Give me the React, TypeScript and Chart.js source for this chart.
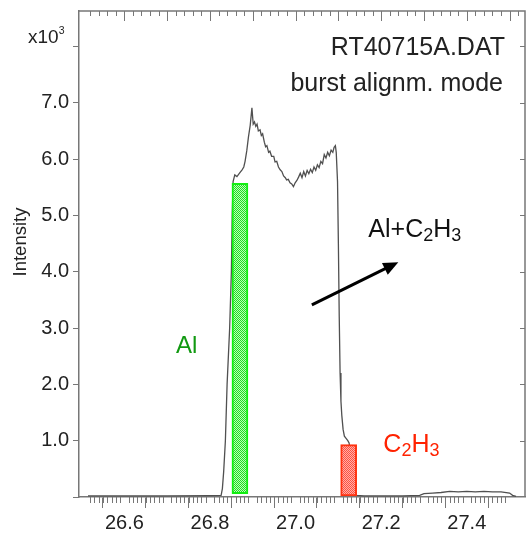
import React, { useEffect, useRef } from "react";
import { Chart, registerables } from "chart.js";

Chart.register(...registerables);

const FONT = "'Liberation Sans', Arial, Helvetica, sans-serif";
const AXIS = "#777777";

// ---- data (x: mass / time axis, y: intensity in units of 10^3) ----
const traceX = [
  26.515, 26.6, 26.7, 26.8, 26.826, 26.829, 26.832, 26.836, 26.84, 26.846,
  26.85, 26.852, 26.854, 26.858, 26.863, 26.869, 26.875, 26.879, 26.882, 26.886,
  26.89, 26.894, 26.898, 26.901, 26.904, 26.907, 26.91, 26.913, 26.917, 26.92,
  26.923, 26.927, 26.93, 26.933, 26.937, 26.94, 26.944, 26.949, 26.952, 26.956,
  26.96, 26.964, 26.968, 26.972, 26.976, 26.979, 26.983, 26.987, 26.991, 26.995,
  26.999, 27.003, 27.007, 27.011, 27.015, 27.019, 27.023, 27.027, 27.031, 27.035,
  27.039, 27.043, 27.047, 27.051, 27.055, 27.059, 27.063, 27.067, 27.071, 27.075,
  27.079, 27.083, 27.087, 27.09, 27.093, 27.095, 27.098, 27.1, 27.102, 27.104,
  27.106, 27.108, 27.111, 27.114, 27.118, 27.122, 27.125, 27.128, 27.131, 27.134,
  27.138, 27.143, 27.16, 27.2, 27.25, 27.29, 27.3, 27.32, 27.34, 27.36,
  27.38, 27.4, 27.42, 27.44, 27.46, 27.48, 27.5, 27.507, 27.515,
];
const traceY = [
  0.02, 0.02, 0.02, 0.025, 0.03, 0.15, 0.45, 1.0, 2.0, 3.0,
  4.0, 5.0, 5.6, 5.72, 5.69, 5.75, 5.81, 5.86, 5.96, 6.15,
  6.4, 6.6, 6.91, 6.62, 6.66, 6.58, 6.62, 6.5, 6.52, 6.42,
  6.45, 6.3, 6.22, 6.24, 6.12, 6.14, 6.05, 6.05, 5.95, 5.96,
  5.86, 5.81, 5.78, 5.7, 5.67, 5.63, 5.64, 5.58, 5.56, 5.51,
  5.58, 5.62, 5.68, 5.75, 5.67, 5.78, 5.7, 5.8, 5.74, 5.82,
  5.76, 5.86, 5.8, 5.9, 5.85, 5.96, 5.92, 6.08, 6.02, 6.12,
  6.06, 6.16, 6.12, 6.21, 6.24, 6.12, 5.6, 4.5, 3.2, 2.2,
  1.7, 1.45, 1.2, 1.08, 1.04, 1.0, 0.96, 0.8, 0.5, 0.25,
  0.08, 0.03, 0.02, 0.02, 0.02, 0.03, 0.06, 0.07, 0.08, 0.1,
  0.09, 0.1, 0.09, 0.1, 0.09, 0.09, 0.07, 0.03, 0.01,
];

// gated windows (bars): centre on x, floating from bottom to top
const barNames = ["Al", "C2H3"];
const barCenters = [26.87, 27.124];
const barBottoms = [0.06, 0.02];
const barTops = [5.57, 0.93];

// axes
const xMin = 26.494;
const xMax = 27.536;
const yMin = 0;
const yMax = 8.63;
const xTickLabels = [26.6, 26.8, 27.0, 27.2, 27.4];
const yTickLabels = [1, 2, 3, 4, 5, 6, 7];
const xMinorBottom = [26.52, 27.5]; // 0.01 steps
const xMinorTop = [26.52, 27.52]; // 0.02 steps

function makePattern(c1: string, c2: string) {
  const cv = document.createElement("canvas");
  cv.width = 2;
  cv.height = 2;
  const g = cv.getContext("2d")!;
  g.fillStyle = c1;
  g.fillRect(0, 0, 2, 2);
  g.fillStyle = c2;
  g.fillRect(0, 0, 1, 1);
  g.fillRect(1, 1, 1, 1);
  return g.createPattern(cv, "repeat")!;
}

function drawParts(
  ctx: CanvasRenderingContext2D,
  parts: [string, number][],
  x: number,
  y: number,
  big: number,
  small: number,
  drop: number,
  color: string
) {
  let cx = x;
  ctx.fillStyle = color;
  ctx.textBaseline = "alphabetic";
  ctx.textAlign = "left";
  for (const [t, kind] of parts) {
    ctx.font = `${kind === 0 ? big : small}px ${FONT}`;
    const dy = kind === 1 ? drop : kind === -1 ? -drop : 0;
    ctx.fillText(t, cx, y + dy);
    cx += ctx.measureText(t).width;
  }
}

const decor = {
  id: "decor",
  afterDraw(chart: any) {
    const { ctx, chartArea: a, scales } = chart;
    const xs = scales.x;
    const ys = scales.y;
    ctx.save();
    // frame top + right
    ctx.strokeStyle = AXIS;
    ctx.lineWidth = 1.5;
    ctx.beginPath();
    ctx.moveTo(a.left, a.top);
    ctx.lineTo(a.right, a.top);
    ctx.lineTo(a.right, a.bottom);
    ctx.stroke();

    // minor ticks
    ctx.lineWidth = 1;
    ctx.strokeStyle = AXIS;
    ctx.beginPath();
    const b0 = Math.round(xMinorBottom[0] * 100);
    const b1 = Math.round(xMinorBottom[1] * 100);
    for (let k = b0; k <= b1; k++) {
      if (k % 10 === 0) continue;
      const px = Math.round(xs.getPixelForValue(k / 100)) + 0.5;
      ctx.moveTo(px, a.bottom);
      ctx.lineTo(px, a.bottom + 6);
    }
    const t0 = Math.round(xMinorTop[0] * 100);
    const t1 = Math.round(xMinorTop[1] * 100);
    for (let k = t0; k <= t1; k += 2) {
      const px = Math.round(xs.getPixelForValue(k / 100)) + 0.5;
      const len = k % 10 === 0 ? 10 : 5;
      ctx.moveTo(px, a.top);
      ctx.lineTo(px, a.top + len);
    }
    for (let v = 1; v <= 8; v++) {
      const py = Math.round(ys.getPixelForValue(v)) + 0.5;
      ctx.moveTo(a.right, py);
      ctx.lineTo(a.right - 5, py);
    }
    ctx.stroke();

    // y axis title
    ctx.save();
    ctx.translate(20.5, 242);
    ctx.rotate(-Math.PI / 2);
    ctx.font = `18.5px ${FONT}`;
    ctx.fillStyle = "#222";
    ctx.textAlign = "center";
    ctx.textBaseline = "middle";
    ctx.fillText("Intensity", 0, 0);
    ctx.restore();

    // x10^3 multiplier
    drawParts(ctx, [["x10", 0], ["3", -1]], 28, 42.5, 19, 10.5, 9, "#222");

    // file info
    ctx.fillStyle = "#222";
    ctx.textAlign = "right";
    ctx.textBaseline = "alphabetic";
    ctx.font = `25px ${FONT}`;
    ctx.fillText("RT40715A.DAT", 505, 55);
    ctx.fillText("burst alignm. mode", 503, 91);

    // labels
    ctx.textAlign = "left";
    ctx.font = `24px ${FONT}`;
    ctx.fillStyle = "#119911";
    ctx.fillText("Al", xs.getPixelForValue(26.723) - 1, ys.getPixelForValue(2.56));

    drawParts(
      ctx,
      [["Al+C", 0], ["2", 1], ["H", 0], ["3", 1]],
      xs.getPixelForValue(27.17),
      ys.getPixelForValue(4.62),
      25,
      18,
      4.5,
      "#111"
    );
    drawParts(
      ctx,
      [["C", 0], ["2", 1], ["H", 0], ["3", 1]],
      xs.getPixelForValue(27.205),
      ys.getPixelForValue(0.8),
      25,
      18,
      4.5,
      "#ff2200"
    );

    // arrow
    const p0x = xs.getPixelForValue(27.038);
    const p0y = ys.getPixelForValue(3.41);
    const p1x = xs.getPixelForValue(27.24);
    const p1y = ys.getPixelForValue(4.17);
    const ang = Math.atan2(p1y - p0y, p1x - p0x);
    const hl = 15;
    const hw = 6.5;
    const bx = p1x - hl * Math.cos(ang);
    const by = p1y - hl * Math.sin(ang);
    ctx.strokeStyle = "#000";
    ctx.lineWidth = 3;
    ctx.beginPath();
    ctx.moveTo(p0x, p0y);
    ctx.lineTo(bx + Math.cos(ang), by + Math.sin(ang));
    ctx.stroke();
    ctx.fillStyle = "#000";
    ctx.beginPath();
    ctx.moveTo(p1x, p1y);
    ctx.lineTo(bx - hw * Math.sin(ang), by + hw * Math.cos(ang));
    ctx.lineTo(bx + hw * Math.sin(ang), by - hw * Math.cos(ang));
    ctx.closePath();
    ctx.fill();

    ctx.restore();
  },
};

export default function App() {
  const ref = useRef<HTMLCanvasElement | null>(null);

  useEffect(() => {
    const canvas = ref.current;
    if (!canvas) return;
    const greenFill = makePattern("#b8ffb8", "#22dd22");
    const redFill = makePattern("#ffb0a8", "#ff5040");
    const barColors = [
      { fill: greenFill, border: "#11ee11" },
      { fill: redFill, border: "#ff3311" },
    ];

    const barSets = barNames.map((name, i) => ({
      type: "bar" as const,
      label: name,
      data: [{ x: barCenters[i], y: [barBottoms[i], barTops[i]] }],
      backgroundColor: barColors[i].fill,
      borderColor: barColors[i].border,
      borderWidth: 2,
      borderSkipped: false,
      barThickness: 16,
      grouped: false,
      order: 0,
    }));

    const chart = new Chart(canvas, {
      type: "line",
      data: {
        datasets: [
          ...(barSets as any[]),
          {
            type: "line",
            label: "trace",
            data: traceX.map((x, i) => ({ x, y: traceY[i] })),
            borderColor: "#505050",
            borderWidth: 1.3,
            pointRadius: 0,
            tension: 0,
            fill: false,
            order: 1,
          },
        ],
      },
      options: {
        animation: false,
        responsive: true,
        maintainAspectRatio: false,
        events: [],
        layout: { padding: { top: 11, right: 2, left: 0, bottom: 0 } },
        plugins: {
          legend: { display: false },
          tooltip: { enabled: false },
          title: { display: false },
        },
        scales: {
          x: {
            type: "linear",
            min: xMin,
            max: xMax,
            offset: false,
            border: { display: true, color: AXIS, width: 1.5 },
            grid: {
              display: true,
              drawOnChartArea: false,
              drawTicks: true,
              tickLength: 11,
              tickWidth: 1,
              tickColor: (c: any) =>
                c.tick && c.tick.value < xMinorBottom[0] - 0.005 ? "rgba(0,0,0,0)" : AXIS,
            },
            ticks: {
              stepSize: 0.1,
              maxTicksLimit: 100,
              includeBounds: false,
              autoSkip: false,
              maxRotation: 0,
              minRotation: 0,
              padding: 3,
              color: "#222",
              font: { family: FONT, size: 20 },
              callback: (v: any) => {
                const n = Number(v);
                return xTickLabels.some((t) => Math.abs(t - n) < 1e-6) ? n.toFixed(1) : "";
              },
            },
            afterFit: (s: any) => {
              s.height = 36;
              s.paddingLeft = 0;
              s.paddingRight = 0;
            },
          },
          y: {
            type: "linear",
            min: yMin,
            max: yMax,
            border: { display: true, color: AXIS, width: 1.5 },
            grid: {
              display: true,
              drawOnChartArea: false,
              drawTicks: true,
              tickLength: 6,
              tickWidth: 1,
              tickColor: AXIS,
            },
            ticks: {
              stepSize: 1,
              includeBounds: false,
              autoSkip: false,
              padding: 4,
              color: "#222",
              font: { family: FONT, size: 20 },
              callback: (v: any) => {
                const n = Number(v);
                return yTickLabels.some((t) => Math.abs(t - n) < 1e-6) ? n.toFixed(1) : "";
              },
            },
            afterFit: (s: any) => {
              s.width = 79;
              s.paddingTop = 0;
              s.paddingBottom = 0;
            },
          },
        },
      },
      plugins: [decor],
    } as any);

    return () => {
      chart.destroy();
    };
  }, []);

  return (
    <div
      style={{
        position: "fixed",
        left: 0,
        top: 0,
        width: 527,
        height: 533,
        background: "#fff",
      }}
    >
      <canvas ref={ref} />
    </div>
  );
}
